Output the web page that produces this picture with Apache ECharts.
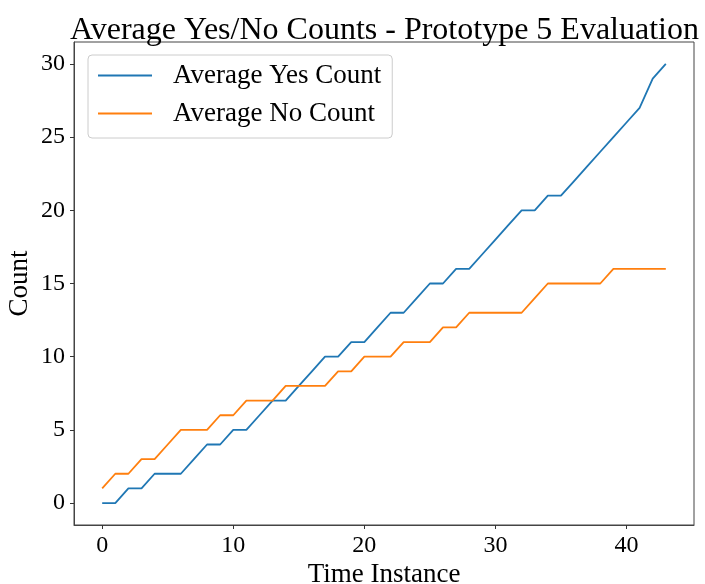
<!DOCTYPE html>
<html>
<head>
<meta charset="utf-8">
<script src="https://cdn.jsdelivr.net/npm/echarts@6/dist/echarts.min.js"></script>
<style>
  html, body { margin: 0; padding: 0; background: #fff; }
  #chart { width: 705px; height: 584px; }
</style>
</head>
<body>
<div id="chart"></div>
<script>
// data
const timeInstances = [];
for (let i = 0; i <= 43; i++) timeInstances.push(i);
const yesCounts = [0, 0, 1, 1, 2, 2, 2, 3, 4, 4, 5, 5, 6, 7, 7, 8, 9, 10, 10, 11, 11, 12, 13, 13, 14, 15, 15, 16, 16, 17, 18, 19, 20, 20, 21, 21, 22, 23, 24, 25, 26, 27, 29, 30];
const noCounts = [1, 2, 2, 3, 3, 4, 5, 5, 5, 6, 6, 7, 7, 7, 8, 8, 8, 8, 9, 9, 10, 10, 10, 11, 11, 11, 12, 12, 13, 13, 13, 13, 13, 14, 15, 15, 15, 15, 15, 16, 16, 16, 16, 16];
const xTicks = [0, 10, 20, 30, 40];
const yTicks = [0, 5, 10, 15, 20, 25, 30];

const font = "Liberation Serif";
const chart = echarts.init(document.getElementById("chart"));

function pairs(ys) {
  return ys.map((v, i) => [timeInstances[i], v]);
}

const axisCommon = {
  axisLine: { show: true, onZero: false, lineStyle: { color: "#444", width: 1 } },
  axisTick: { show: true, inside: false, length: 4, lineStyle: { color: "#333", width: 1 } },
  splitLine: { show: false },
  nameMoveOverlap: false,
  nameTextStyle: { fontFamily: font, fontSize: 27, color: "#000" },
};

chart.setOption({
  animation: false,
  backgroundColor: "#fff",
  title: {
    text: "Average Yes/No Counts - Prototype 5 Evaluation",
    left: 65,
    top: 10,
    textStyle: { fontFamily: font, fontSize: 32, fontWeight: "normal", color: "#000" },
  },
  legend: {
    orient: "vertical",
    left: 88,
    top: 55,
    padding: [7, 11, 11, 10],
    itemGap: 11,
    icon: "rect",
    itemWidth: 54,
    itemHeight: 2,
    backgroundColor: "#fff",
    borderColor: "#ccc",
    borderWidth: 1,
    borderRadius: 4,
    textStyle: { fontFamily: font, fontSize: 27, color: "#000", padding: [0, 0, 0, 16] },
    data: ["Average Yes Count", "Average No Count"],
  },
  grid: {
    left: 74, right: 11, top: 42, bottom: 59,
    outerBoundsMode: "none",
    containLabel: false,
    show: true, borderColor: "#444", borderWidth: 1,
  },
  xAxis: Object.assign({}, axisCommon, {
    type: "value",
    min: -2.15,
    max: 45.15,
    name: "Time Instance",
    nameLocation: "middle",
    nameGap: 36,
    axisTick: Object.assign({}, axisCommon.axisTick, { customValues: xTicks }),
    axisLabel: { customValues: xTicks, fontFamily: font, fontSize: 24, color: "#000", margin: 9 },
  }),
  yAxis: Object.assign({}, axisCommon, {
    type: "value",
    min: -1.5,
    max: 31.5,
    name: "Count",
    nameLocation: "middle",
    nameGap: 41,
    axisTick: Object.assign({}, axisCommon.axisTick, { customValues: yTicks }),
    axisLabel: { customValues: yTicks, fontFamily: font, fontSize: 24, color: "#000", margin: 9 },
  }),
  series: [
    {
      name: "Average Yes Count",
      type: "line",
      symbol: "none",
      data: pairs(yesCounts),
      lineStyle: { color: "#1f77b4", width: 1.8 },
      itemStyle: { color: "#1f77b4" },
    },
    {
      name: "Average No Count",
      type: "line",
      symbol: "none",
      data: pairs(noCounts),
      lineStyle: { color: "#ff7f0e", width: 1.8 },
      itemStyle: { color: "#ff7f0e" },
    },
  ],
});
</script>
</body>
</html>
